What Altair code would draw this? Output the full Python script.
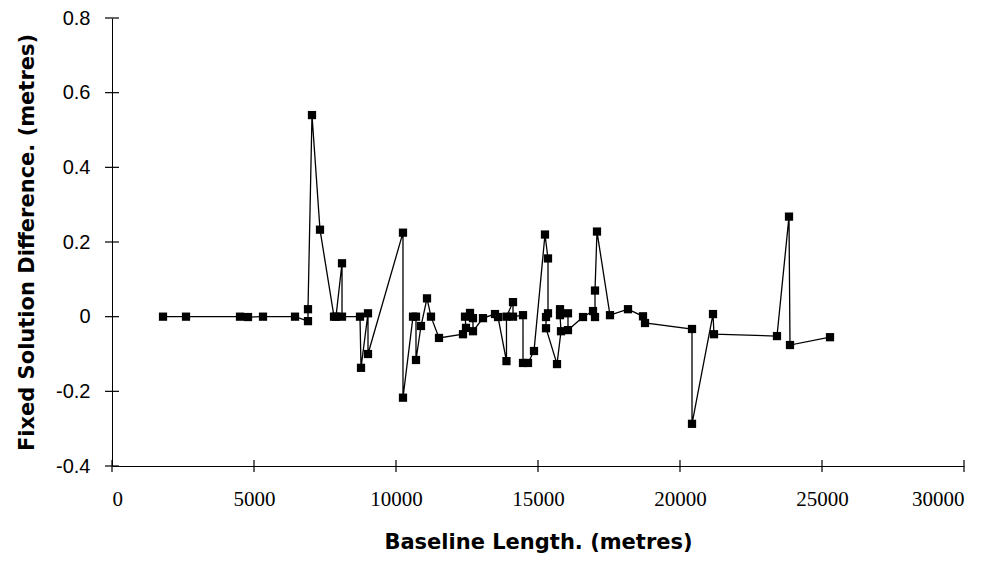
import altair as alt
import pandas as pd

# Baseline length (metres) and fixed solution difference (metres), in drawing order
baseline = [1796, 2606, 4507, 4789, 5317, 6444, 6901, 6901, 7042, 7324,
            7817, 7887, 8099, 8099, 8732, 8768, 9014, 9014, 10246, 10246,
            10599, 10704, 10704, 10880, 11092, 11232, 11514, 12359, 12465, 12430,
            12606, 12711, 12711, 13063, 13486, 13592, 13890, 13890, 14120, 14120,
            14472, 14472, 14648, 14859, 15246, 15352, 15352, 15282, 15282, 15669,
            15810, 15775, 15775, 16056, 16056, 16585, 16937, 17007, 17007, 17077,
            17535, 18169, 18697, 18768, 20423, 20423, 21162, 21197, 23415, 23838,
            23873, 25282]
difference = [0.0, 0.0, 0.0, -0.001, 0.0, 0.0, -0.012, 0.02, 0.54, 0.233,
              0.0, 0.0, 0.143, 0.0, 0.0, -0.137, 0.009, -0.1, 0.225, -0.217,
              0.0, 0.0, -0.116, -0.025, 0.049, 0.0, -0.057, -0.047, -0.03, 0.0,
              0.01, -0.004, -0.039, -0.004, 0.007, -0.001, -0.119, 0.0, 0.039, 0.0,
              0.004, -0.124, -0.124, -0.092, 0.22, 0.156, 0.009, -0.001, -0.031, -0.127,
              -0.039, 0.004, 0.02, 0.009, -0.036, -0.001, 0.015, -0.001, 0.07, 0.228,
              0.004, 0.02, 0.001, -0.017, -0.033, -0.287, 0.007, -0.047, -0.052, 0.268,
              -0.076, -0.055]

x_ticks = [0, 5000, 10000, 15000, 20000, 25000, 30000]
y_ticks = [-0.4, -0.2, 0, 0.2, 0.4, 0.6, 0.8]

df = pd.DataFrame({"baseline": baseline, "difference": difference,
                   "seq": list(range(len(baseline)))})

W, H = 852, 448
xscale = alt.Scale(domain=[0, 30000], nice=False, zero=False)
yscale = alt.Scale(domain=[-0.4, 0.8], nice=False, zero=False)

xaxis = alt.Axis(values=x_ticks, format="d", ticks=False, grid=False,
                 domainColor="black", domainWidth=1,
                 labelFont="Liberation Sans Narrow", labelFontSize=21,
                 labelColor="black", labelPadding=22,
                 title="Baseline Length. (metres)", titleFont="DejaVu Sans",
                 titleFontSize=21, titleFontWeight="bold", titleColor="black",
                 titlePadding=22)
yaxis = alt.Axis(values=y_ticks, ticks=False, grid=False,
                 domainColor="black", domainWidth=1,
                 labelExpr="datum.value < 0 ? '-' + format(-datum.value, '.1f') : (datum.value == 0 ? '0' : format(datum.value, '.1f'))",
                 labelFont="Liberation Sans", labelFontSize=20,
                 labelColor="black", labelPadding=22,
                 title="Fixed Solution Difference. (metres)", titleFont="DejaVu Sans",
                 titleFontSize=21, titleFontWeight="bold", titleColor="black",
                 titlePadding=18)

line = alt.Chart(df).mark_line(color="black", strokeWidth=1.3).encode(
    x=alt.X("baseline:Q", scale=xscale, axis=xaxis),
    y=alt.Y("difference:Q", scale=yscale, axis=yaxis),
    order="seq:Q",
)
pts = alt.Chart(df).mark_square(size=68, color="black", opacity=1, filled=True).encode(
    x=alt.X("baseline:Q", scale=xscale, axis=xaxis),
    y=alt.Y("difference:Q", scale=yscale, axis=yaxis),
)
yt = alt.Chart(pd.DataFrame({"v": y_ticks})).mark_tick(
    orient="horizontal", size=14, thickness=1.2, color="black", opacity=1).encode(
    y=alt.Y("v:Q", scale=yscale, axis=yaxis),
    x=alt.value(0),
)
xt = alt.Chart(pd.DataFrame({"v": x_ticks})).mark_tick(
    orient="vertical", size=12, thickness=1.2, color="black", opacity=1).encode(
    x=alt.X("v:Q", scale=xscale, axis=xaxis),
    y=alt.value(H),
)

chart = alt.layer(line, pts, yt, xt).properties(
    width=W, height=H,
    autosize=alt.AutoSizeParams(type="none"),
    padding={"left": 104, "top": 10, "right": 30, "bottom": 96},
    background="white",
).configure_view(stroke=None)

chart.save("out.html", embed_options={"renderer": "svg", "actions": False})
